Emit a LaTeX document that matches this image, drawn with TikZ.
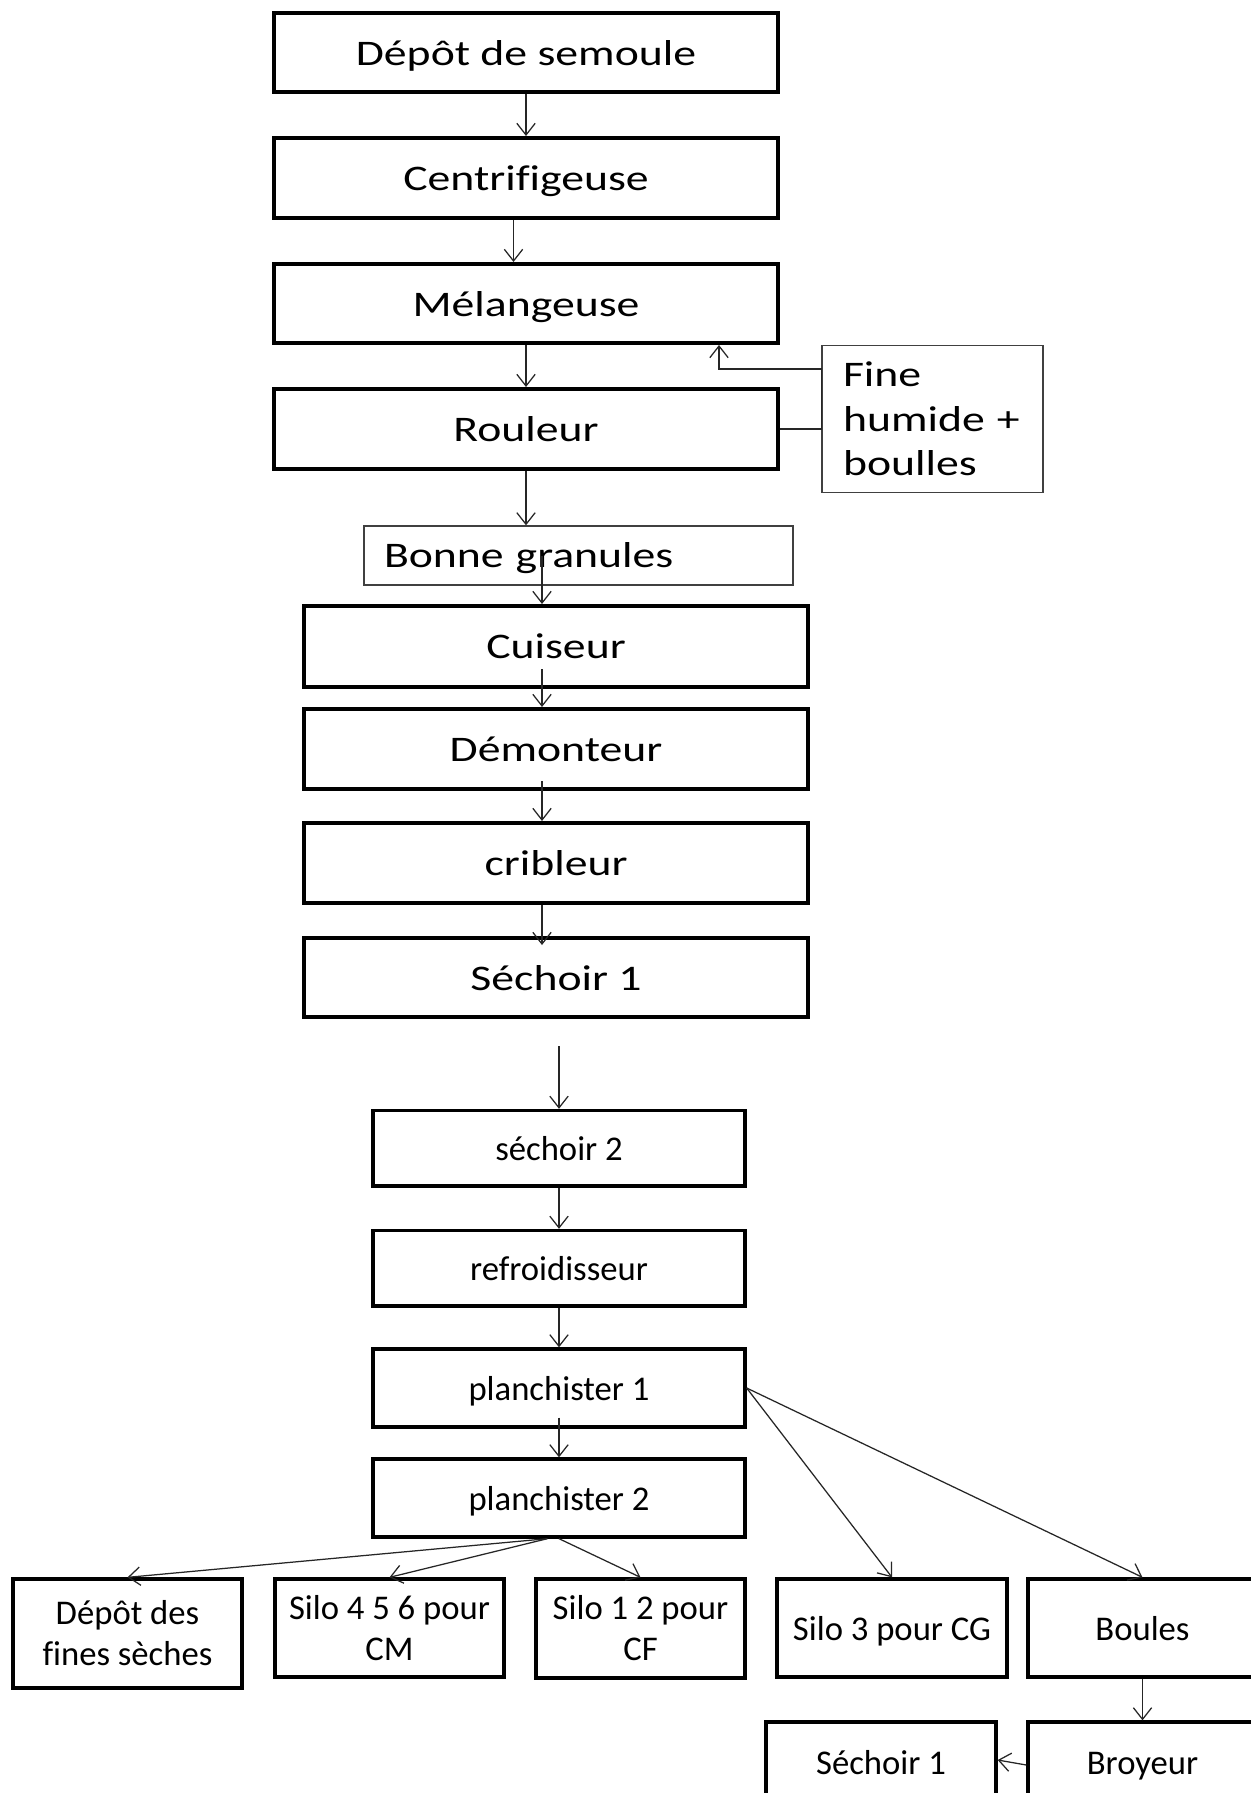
\documentclass[tikz,border=0pt]{standalone}
\usepackage{fontspec}
\setmainfont[Ligatures=NoCommon]{Carlito}
\newfontfamily\widefont[FakeStretch=1.27,Ligatures=NoCommon]{Carlito}
\usetikzlibrary{arrows.meta}
\newcommand\bx[7]{\node[#1, minimum width={(#5-#3)*0.6pt}, minimum height={(#6-#4)*0.6pt}] (#2) at ({(#3+#5)/2},{(#4+#6)/2}) {#7};}
\tikzset{
  topbox/.style={draw=black, line width=2.4pt, inner sep=0pt, text height=17pt, text depth=2pt, font=\widefont\fontsize{21.6}{26.8}\selectfont},
  thinbox/.style={draw=black!75, line width=0.8pt, font=\widefont\fontsize{21.6}{26.8}\selectfont, align=left},
  midbox/.style={draw=black, line width=2pt, inner sep=0pt, align=center, font=\fontsize{20.8}{24.6}\selectfont},
  oneline/.style={text height=16.4pt, text depth=2pt},
  arr/.style={draw=black!85, line width=0.75pt, -{Straight Barb[length=7pt,width=11pt]}}
}
\begin{document}
\begin{tikzpicture}[x=0.6pt,y=-0.6pt]
\useasboundingbox (0,0) rectangle (1250,1793);
\fill[white] (0,0) rectangle (1250,1793);
\bx{topbox}{dep}{274}{13}{778}{92.5}{Dépôt de semoule}
\bx{topbox}{cen}{274}{138}{778}{218}{Centrifigeuse}
\bx{topbox}{mel}{274}{264}{778}{343}{Mélangeuse}
\bx{topbox}{rou}{274}{389}{778}{469}{Rouleur}
\bx{thinbox, inner xsep=12.6pt, text width=107.4pt}{fine}{822}{345.5}{1043}{492.5}{Fine\\humide +\\boulles}
\bx{thinbox, inner xsep=12pt, text width=233.4pt, text height=16pt, text depth=2.2pt}{bon}{364}{526}{793}{585}{Bonne granules}
\bx{topbox}{cui}{304}{606}{808}{686.5}{Cuiseur}
\bx{topbox}{dem}{304}{709}{808}{789}{Démonteur}
\bx{topbox}{cri}{304}{823}{808}{903}{cribleur}
\bx{topbox}{se1}{304}{938}{808}{1017}{Séchoir 1}
\bx{midbox,oneline}{se2}{373}{1110.5}{745}{1186}{séchoir 2}
\bx{midbox,oneline}{ref}{373}{1230.5}{745}{1306}{refroidisseur}
\bx{midbox,oneline}{pl1}{373}{1349}{745}{1427}{planchister 1}
\bx{midbox,oneline}{pl2}{373}{1459}{745}{1537}{planchister 2}
\bx{midbox}{dfs}{13}{1579}{242}{1688}{Dépôt des\\fines sèches}
\bx{midbox}{s456}{275}{1579}{504}{1677}{Silo 4 5 6 pour\\CM}
\bx{midbox}{s12}{536}{1579}{745}{1678}{Silo 1 2 pour\\CF}
\bx{midbox,oneline}{s3}{777}{1579}{1007}{1677}{Silo 3 pour CG}
\bx{midbox,oneline}{bou}{1028}{1579}{1257}{1677}{Boules}
\bx{midbox,oneline}{sb}{766}{1722}{996}{1802}{Séchoir 1}
\bx{midbox,oneline}{bro}{1028}{1722}{1257}{1802}{Broyeur}
% connectors
\draw[arr] (dep.south) -- (cen.north);
\draw[arr] ([xshift=-7.5pt]cen.south) -- ([xshift=-7.5pt]mel.north);
\draw[arr] (mel.south) -- (rou.north);
\draw[arr] (rou.east) -- (rou.east -| fine.west) |- ([xshift=115.8pt,yshift=-14.4pt]mel.south) -- ([xshift=115.8pt]mel.south);
\draw[arr] (rou.south) -- (rou.south |- bon.north);
\draw[arr] ([xshift=-8.4pt]cui.north |- bon.center) -- ([xshift=-8.4pt]cui.north);
\draw[arr] ([xshift=-8.4pt,yshift=11.7pt]cui.south) -- ([xshift=-8.4pt]dem.north);
\draw[arr] ([xshift=-8.4pt,yshift=6pt]dem.south) -- ([xshift=-8.4pt]cri.north);
\draw[arr] ([xshift=-8.4pt]cri.south) -- ([xshift=-8.4pt,yshift=-5.4pt]se1.north);
\draw[arr] ([yshift=-16.2pt]se2.north |- se1.south) -- (se2.north);
\draw[arr] (se2.south) -- (ref.north);
\draw[arr] (ref.south) -- (pl1.north);
\draw[arr] ([yshift=6.6pt]pl1.south) -- (pl2.north);
\draw[arr] (pl1.east) -- (s3.north);
\draw[arr] (pl1.east) -- (bou.north);
\draw[arr] ([xshift=-7pt]pl2.south) -- (dfs.north);
\draw[arr] ([xshift=-7pt]pl2.south) -- (s456.north);
\draw[arr] (pl2.south) -- (s12.north);
\draw[arr] (bou.south) -- (bro.north);
\draw[arr] ([yshift=-1.8pt]bro.west) -- ([yshift=1.2pt]sb.east);
\end{tikzpicture}
\end{document}
